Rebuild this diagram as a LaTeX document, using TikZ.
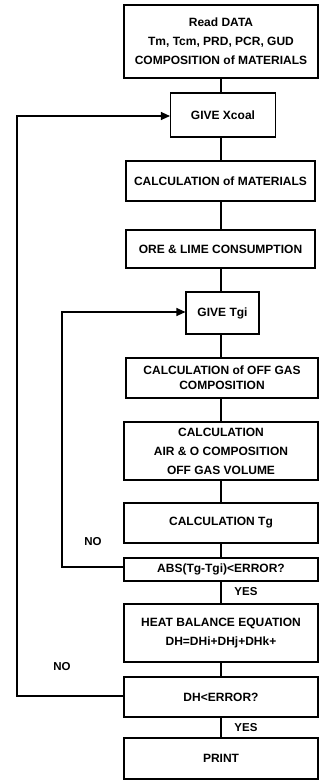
\documentclass[tikz,border=0pt]{standalone}
\usepackage{fontspec}
\setmainfont{Liberation Sans}
\usetikzlibrary{arrows.meta}
\begin{document}
\begin{tikzpicture}[x=1pt,y=-1pt,
  box/.style={draw,line width=1.1pt,align=center,inner sep=0pt,font=\bfseries\fontsize{12}{19}\selectfont},
  conn/.style={line width=1.1pt},
  arr/.style={line width=1.1pt,-{Triangle[length=9pt,width=8pt]}},
  lbl/.style={font=\bfseries\fontsize{11.5}{12}\selectfont,inner sep=0pt}]
\useasboundingbox (0,0) rectangle (329,780);
\node[box,minimum width=194pt,minimum height=73pt] (read) at (221,41.5) {Read DATA\\Tm, Tcm, PRD, PCR, GUD\\COMPOSITION of MATERIALS};
\node[box,minimum width=105pt,minimum height=44pt] (xc) at (223,115) {GIVE Xcoal};
\node[box,minimum width=189pt,minimum height=40pt] (mat) at (220.5,181) {CALCULATION of MATERIALS};
\node[box,minimum width=189pt,minimum height=38pt] (ore) at (220.5,249) {ORE \& LIME CONSUMPTION};
\node[box,minimum width=73pt,minimum height=42pt] (tgi) at (222.5,313) {GIVE Tgi};
\node[box,minimum width=192pt,minimum height=40pt,font=\bfseries\fontsize{12}{15}\selectfont] (off) at (222,378) {CALCULATION of OFF GAS\\COMPOSITION};
\node[box,minimum width=194pt,minimum height=58pt] (air) at (221,451) {CALCULATION\\AIR \& O COMPOSITION\\OFF GAS VOLUME};
\node[box,minimum width=194pt,minimum height=40pt] (tg) at (221,523) {CALCULATION Tg};
\node[box,minimum width=194pt,minimum height=23pt] (abs) at (221,569.5) {ABS(Tg-Tgi)<ERROR?};
\node[box,minimum width=194pt,minimum height=58pt] (heat) at (221,633) {HEAT BALANCE EQUATION\\DH=DHi+DHj+DHk+};
\node[box,minimum width=194pt,minimum height=40pt] (dh) at (221,697) {DH<ERROR?};
\node[box,minimum width=194pt,minimum height=41pt] (print) at (221,758.5) {PRINT};
\draw[conn] (read.south -| 221,0) -- (xc.north -| 221,0);
\draw[conn] (xc.south -| 221,0) -- (mat.north -| 221,0);
\draw[conn] (mat.south -| 221,0) -- (ore.north -| 221,0);
\draw[conn] (ore.south -| 221,0) -- (tgi.north -| 221,0);
\draw[conn] (tgi.south -| 221,0) -- (off.north -| 221,0);
\draw[conn] (off.south -| 221,0) -- (air.north -| 221,0);
\draw[conn] (air.south -| 221,0) -- (tg.north -| 221,0);
\draw[conn] (tg.south -| 221,0) -- (abs.north -| 221,0);
\draw[conn] (abs.south -| 221,0) -- (heat.north -| 221,0);
\draw[conn] (heat.south -| 221,0) -- (dh.north -| 221,0);
\draw[conn] (dh.south -| 221,0) -- (print.north -| 221,0);
\coordinate (l1a) at (17,696);
\coordinate (l1b) at (17,116);
\draw[arr] (dh.west |- l1a) -- (l1a) -- (l1b) -- (xc.west |- l1b);
\coordinate (l2a) at (62,567);
\coordinate (l2b) at (62,312);
\draw[arr] (abs.west |- l2a) -- (l2a) -- (l2b) -- (tgi.west |- l2b);
\node[lbl] (no1) at (93,542) {NO};
\node[lbl] (no2) at (62,667) {NO};
\node[lbl] (yes1) at (246,592) {YES};
\node[lbl] (yes2) at (246,728) {YES};
\end{tikzpicture}
\end{document}
